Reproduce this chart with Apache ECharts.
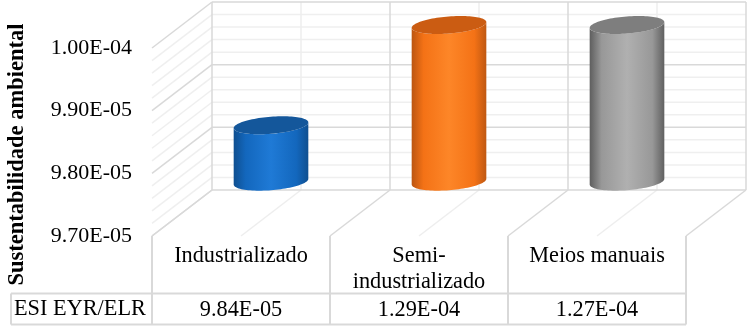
<!DOCTYPE html>
<html>
<head>
<meta charset="utf-8">
<style>html,body{margin:0;padding:0;background:#fff}#c{width:752px;height:327px}</style>
<script src="https://cdn.jsdelivr.net/npm/echarts@6/dist/echarts.min.js"></script>
</head>
<body>
<div id="c"></div>
<script>
var categories = ['Industrializado', 'Semi-\nindustrializado', 'Meios manuais'];
var esiValues = [9.84e-5, 1.29e-4, 1.27e-4];
var rowLabel = 'ESI EYR/ELR';
var axisTitle = 'Sustentabilidade ambiental';
var axisMin = 9.7e-5, axisMax = 1.0e-4, axisStep = 1e-6;
var majorTicks = [9.7e-5, 9.8e-5, 9.9e-5, 1.0e-4];
var minorTicks = [9.72e-5, 9.74e-5, 9.76e-5, 9.78e-5, 9.82e-5, 9.84e-5, 9.86e-5, 9.88e-5, 9.92e-5, 9.94e-5, 9.96e-5, 9.98e-5];
var cylinderBase = 9.75e-5;

var depth = [60, -46];
var FONT = '"Liberation Serif","Times New Roman",serif';
var MAJOR = '#d9d9d9', MINOR = '#efefef';
var palettes = [
  {top:'#14579b', stops:['#0f4f90','#1367bd','#1f7ad6','#1367bd','#0f4f90']},
  {top:'#cb5c12', stops:['#bb5511','#f47216','#fd8628','#f47216','#bf5812']},
  {top:'#7e7e7e', stops:['#5e5e5e','#989898','#b0b0b0','#989898','#606060']}
];

function fmt(v){
  var p = v.toExponential(2).split('e');
  var e = parseInt(p[1],10);
  return p[0] + 'E' + (e<0?'-':'+') + (Math.abs(e)<10?'0':'') + Math.abs(e);
}
function seg(a,b,c,w){
  return {type:'line',shape:{x1:a[0],y1:a[1],x2:b[0],y2:b[1]},style:{stroke:c,lineWidth:w||1.5,fill:null}};
}
function shift(p,k){ return [p[0]+depth[0]*k, p[1]+depth[1]*k]; }

function renderWalls(params, api){
  var ch = [];
  var band = api.size([1,0])[0];
  function hline(list,color){
    list.forEach(function(v){
      var a = api.coord([0,v]); a[0]-=band/2;
      var b = api.coord([categories.length-1,v]); b[0]+=band/2;
      ch.push(seg(a,shift(a,1),color));
      ch.push(seg(shift(a,1),shift(b,1),color));
    });
  }
  function vline(x,color,toFront){
    var lo = api.coord([0,axisMin]), hi = api.coord([0,axisMax]);
    lo[0]=x; hi[0]=x;
    ch.push(seg(shift(lo,1),shift(hi,1),color));
    if(toFront) ch.push(seg(lo,shift(lo,1),color));
  }
  hline(minorTicks,MINOR);
  categories.forEach(function(c,i){ vline(api.coord([i,axisMin])[0],'#eeeeee',true); });
  hline(majorTicks,MAJOR);
  categories.forEach(function(c,i){ vline(api.coord([i,axisMin])[0]-band/2,MAJOR,true); });
  vline(api.coord([categories.length-1,axisMin])[0]+band/2,MAJOR,true);
  return {type:'group',children:ch};
}

function renderTable(params, api){
  var ch = [];
  var band = api.size([1,0])[0];
  var lo = api.coord([0,axisMin]);
  var left = lo[0]-band/2, y0 = lo[1];
  var y1 = y0+57.5, y2 = y0+88.5, far = left-141;
  for(var i=0;i<=categories.length;i++){
    ch.push(seg([left+i*band,y0],[left+i*band,y2],MAJOR,2));
  }
  ch.push(seg([far,y1],[left+band*categories.length,y1],MAJOR,2));
  ch.push(seg([far,y2],[left+band*categories.length,y2],MAJOR,2));
  ch.push(seg([far,y1],[far,y2],MAJOR,2));
  return {type:'group',children:ch};
}

function renderCylinder(params, api){
  var i = api.value(0), v = Math.min(api.value(1), axisMax);
  var band = api.size([1,0])[0];
  var a = band*0.199, k = 0.196;
  var bx = depth[0]*k, by = -depth[1]*k;
  var top = shift(api.coord([i,v]),0.5);
  var bot = shift(api.coord([i,cylinderBase]),0.5);
  function P(c,t){ return [c[0]+a*Math.cos(t)+bx*Math.sin(t), c[1]-by*Math.sin(t)]; }
  var t0 = Math.atan2(bx,a), n = 48, body = [], lid = [], j;
  for(j=0;j<=n;j++) body.push(P(bot,t0-Math.PI*j/n));
  for(j=n;j>=0;j--) body.push(P(top,t0-Math.PI*j/n));
  for(j=0;j<2*n;j++) lid.push(P(top,Math.PI*j/n));
  var pal = palettes[params.dataIndex];
  var pos = [0,0.16,0.5,0.84,1];
  return {type:'group',children:[
    {type:'polygon',shape:{points:body},style:{fill:{type:'linear',x:0,y:0,x2:1,y2:0,
      colorStops:pal.stops.map(function(c,n2){return {offset:pos[n2],color:c};})}}},
    {type:'polygon',shape:{points:lid},style:{fill:pal.top}}
  ]};
}

var chart = echarts.init(document.getElementById('c'),null,{renderer:'canvas'});
chart.setOption({
  animation:false,
  backgroundColor:'#ffffff',
  grid:{left:152,top:48,width:534,height:188,containLabel:false},
  xAxis:[
    {type:'category',data:categories,position:'bottom',axisLine:{show:false},axisTick:{show:false},splitLine:{show:false},
     axisLabel:{interval:0,margin:7,fontFamily:FONT,fontSize:22.3,lineHeight:26,color:'#000',verticalAlign:'top'}},
    {type:'category',data:esiValues.map(fmt),position:'bottom',offset:61,axisLine:{show:false},axisTick:{show:false},splitLine:{show:false},
     axisLabel:{interval:0,margin:0,fontFamily:FONT,fontSize:22.3,lineHeight:26,color:'#000',verticalAlign:'top'}}
  ],
  yAxis:{type:'value',min:axisMin,max:axisMax,interval:axisStep,axisLine:{show:false},axisTick:{show:false},splitLine:{show:false},
    axisLabel:{margin:20,fontFamily:FONT,fontSize:22,color:'#000',formatter:function(v){return fmt(v);}}},
  graphic:[
    {type:'text',left:14,top:298,style:{text:rowLabel,font:'22.3px '+FONT,fill:'#000'},z:10},
    {type:'text',x:17,y:154.5,rotation:Math.PI/2,style:{text:axisTitle,font:'bold 22.5px '+FONT,fill:'#000',align:'center',verticalAlign:'middle'},z:10}
  ],
  series:[
    {type:'custom',name:'walls',clip:false,silent:true,z:1,renderItem:renderWalls,data:[[0,axisMin]],encode:{x:0,y:1}},
    {type:'custom',name:'table',clip:false,silent:true,z:1,renderItem:renderTable,data:[[0,axisMin]],encode:{x:0,y:1}},
    {type:'custom',name:'ESI EYR/ELR',clip:false,z:3,renderItem:renderCylinder,
      data:esiValues.map(function(v,i){return [i,v];}),encode:{x:0,y:1}}
  ]
});
</script>
</body>
</html>
